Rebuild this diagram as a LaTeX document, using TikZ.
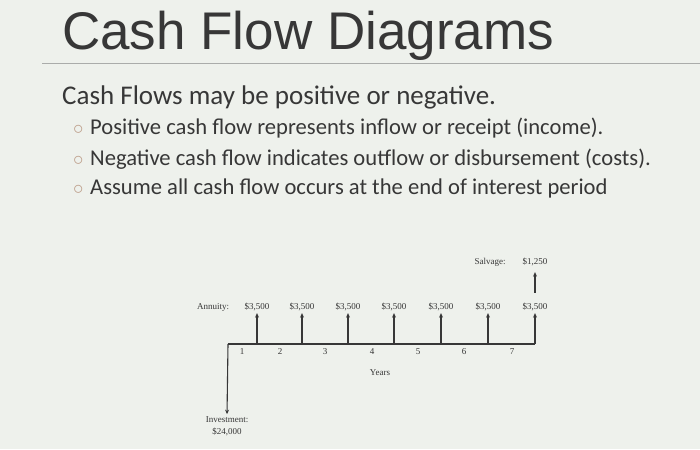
\documentclass[tikz,border=0pt]{standalone}
\usepackage{fontspec}
\setmainfont{Carlito}
\newfontfamily\headfont{Liberation Sans}
\newfontfamily\cfdfont{Liberation Serif}
\usepackage{xcolor}
\usetikzlibrary{arrows.meta}
\definecolor{slidebg}{RGB}{238,241,236}
\definecolor{inkgray}{RGB}{55,55,55}
\definecolor{rulegray}{RGB}{170,172,170}
\definecolor{bulletgray}{RGB}{190,160,140}
\newcommand{\bul}{\makebox[17pt][l]{\textcolor{bulletgray}{$\circ$}}}
\tikzset{
  titletext/.style={anchor=base west, inner sep=0pt, text=inkgray, font=\headfont\fontsize{53}{60}\selectfont},
  leadtext/.style={anchor=base west, inner sep=0pt, text=inkgray, font=\fontsize{27}{32}\selectfont},
  itemtext/.style={anchor=base west, inner sep=0pt, text=inkgray, font=\fontsize{22.6}{26}\selectfont},
  cfdlabel/.style={inner sep=1pt, text=inkgray, font=\cfdfont\fontsize{9}{12}\selectfont},
  axisline/.style={line width=1.3pt, inkgray},
  cashflow/.style={-{Stealth[length=4.5pt,width=4pt]}, line width=1.1pt, inkgray, shorten >=1pt}
}

\begin{document}
\begin{tikzpicture}[x=1pt, y=-1pt]
  \useasboundingbox (0,0) rectangle (700,449);
  \fill[slidebg] (0,0) rectangle (700,449);
  % slide heading and bullet text
  \node[titletext] (title) at (62,50) {Cash Flow Diagrams};
  \draw[rulegray, line width=1pt] (42,64) -- (700,64);
  \node[leadtext] (lead) at (62,105) {Cash Flows may be positive or negative.};
  \node[itemtext] (item1) at (73,135) {\bul Positive cash flow represents inflow or receipt (income).};
  \node[itemtext] (item2) at (73,165) {\bul Negative cash flow indicates outflow or disbursement (costs).};
  \node[itemtext] (item3) at (73,194) {\bul Assume all cash flow occurs at the end of interest period};
  % time line
  \coordinate (t0) at (228,344);
  \coordinate (t1) at (257,344);
  \coordinate (t2) at (302,344);
  \coordinate (t3) at (348,344);
  \coordinate (t4) at (394,344);
  \coordinate (t5) at (441,344);
  \coordinate (t6) at (488,344);
  \coordinate (t7) at (535,344);
  \draw[axisline] (t0) -- (t7);
  % amounts
  \node[cfdlabel] (annuity) at (213,307) {Annuity:};
  \node[cfdlabel] (a1) at (257,307) {\$3,500};
  \node[cfdlabel] (a2) at (302,307) {\$3,500};
  \node[cfdlabel] (a3) at (348,307) {\$3,500};
  \node[cfdlabel] (a4) at (394,307) {\$3,500};
  \node[cfdlabel] (a5) at (441,307) {\$3,500};
  \node[cfdlabel] (a6) at (488,307) {\$3,500};
  \node[cfdlabel] (a7) at (535,307) {\$3,500};
  \node[cfdlabel] (salvage) at (490,262) {Salvage:};
  \node[cfdlabel] (s7) at (535,262) {\$1,250};
  \node[cfdlabel, align=center] (inv) at (227,426) {Investment:\\\$24,000};
  % period numbers
  \node[cfdlabel] (n1) at (242,352) {1};
  \node[cfdlabel] (n2) at (280,352) {2};
  \node[cfdlabel] (n3) at (325,352) {3};
  \node[cfdlabel] (n4) at (372,352) {4};
  \node[cfdlabel] (n5) at (418,352) {5};
  \node[cfdlabel] (n6) at (464,352) {6};
  \node[cfdlabel] (n7) at (512,352) {7};
  \node[cfdlabel] (years) at (380,373) {Years};
  % cash flow arrows
  \draw[cashflow] (t0) -- (inv.north);
  \draw[cashflow] (t1) -- (a1.south);
  \draw[cashflow] (t2) -- (a2.south);
  \draw[cashflow] (t3) -- (a3.south);
  \draw[cashflow] (t4) -- (a4.south);
  \draw[cashflow] (t5) -- (a5.south);
  \draw[cashflow] (t6) -- (a6.south);
  \draw[cashflow] (t7) -- (a7.south);
  \draw[cashflow, shorten <=9pt, shorten >=5pt] (a7.north) -- (s7.south);
\end{tikzpicture}
\end{document}
